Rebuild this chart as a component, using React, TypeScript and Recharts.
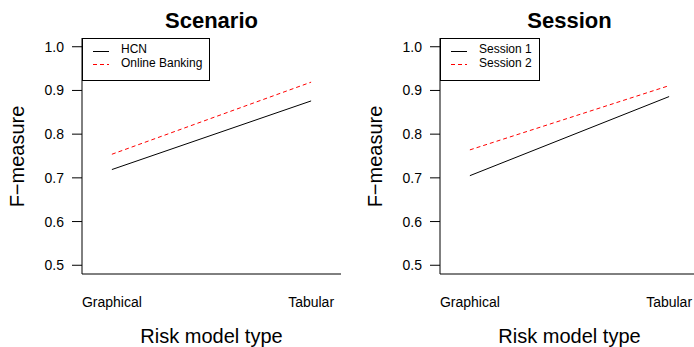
import React from 'react';
import { LineChart, Line, XAxis, YAxis, Legend } from 'recharts';

// ---- data ----
const categories = ['Graphical', 'Tabular'];
const xPositions = [1, 2];
const yTicks = [0.5, 0.6, 0.7, 0.8, 0.9, 1.0];

const scenarioTitle = 'Scenario';
const scenarioNames = ['HCN', 'Online Banking'];
const scenarioHCN = [0.719, 0.876];
const scenarioOnlineBanking = [0.754, 0.919];

const sessionTitle = 'Session';
const sessionNames = ['Session 1', 'Session 2'];
const session1 = [0.705, 0.886];
const session2 = [0.764, 0.911];

const xAxisTitle = 'Risk model type';
const yAxisTitle = 'F\u2212measure';

// ---- styles ----
const FONT = '"Liberation Sans", Arial, Helvetica, sans-serif';
const SERIES_STYLE = [
  { stroke: '#000000', dash: undefined as string | undefined },
  { stroke: '#ff0000', dash: '4 3' },
];
const X_DOMAIN: [number, number] = [0.85, 2.15];
const Y_DOMAIN: [number, number] = [0.48, 1.02];

function LegendBox({ names }: { names: string[] }) {
  return (
    <div
      style={{
        border: '1px solid #000',
        background: '#fff',
        boxSizing: 'border-box',
        height: 43,
        paddingTop: 4,
        paddingRight: 7,
        fontFamily: FONT,
        fontSize: 12,
        color: '#000',
        display: 'inline-block',
      }}
    >
      {names.map((n, i) => (
        <div key={n} style={{ display: 'flex', alignItems: 'center', height: 13.5, lineHeight: '13.5px' }}>
          <svg width={16} height={12} style={{ marginLeft: 10, marginRight: 12, display: 'block' }}>
            <line
              x1={0}
              x2={16}
              y1={7.5}
              y2={7.5}
              stroke={SERIES_STYLE[i].stroke}
              strokeWidth={1}
              strokeDasharray={SERIES_STYLE[i].dash}
            />
          </svg>
          <span style={{ whiteSpace: 'nowrap' }}>{n}</span>
        </div>
      ))}
    </div>
  );
}

function Panel({ title, names, values }: { title: string; names: string[]; values: number[][] }) {
  const data = xPositions.map((x, i) => ({ x, s0: values[0][i], s1: values[1][i] }));

  const xLabel = (props: any) => {
    const vb = props.viewBox || { x: 82, y: 274, width: 259, height: 73 };
    return (
      <text x={vb.x + vb.width / 2} y={vb.y + 69} textAnchor="middle" fontFamily={FONT} fontSize={20} fill="#000">
        {xAxisTitle}
      </text>
    );
  };

  const yLabel = (props: any) => {
    const vb = props.viewBox || { x: 0, y: 38, width: 82, height: 236 };
    const cx = vb.x + 24;
    const cy = vb.y + vb.height / 2 + 0.5;
    return (
      <text
        x={cx}
        y={cy}
        transform={`rotate(-90, ${cx}, ${cy})`}
        textAnchor="middle"
        fontFamily={FONT}
        fontSize={20}
        fill="#000"
      >
        {yAxisTitle}
      </text>
    );
  };

  return (
    <div style={{ position: 'relative', width: 347, height: 347 }}>
      <LineChart width={347} height={347} data={data} margin={{ top: 38, right: 6, bottom: 0, left: 0 }}>
        <XAxis
          xAxisId="main"
          dataKey="x"
          type="number"
          domain={X_DOMAIN}
          allowDataOverflow
          ticks={xPositions}
          tickFormatter={(v: number) => categories[xPositions.indexOf(v)]}
          height={73}
          tickLine={false}
          tickSize={0}
          tickMargin={23}
          axisLine={{ stroke: '#000', strokeWidth: 1 }}
          tick={{ fontFamily: FONT, fontSize: 14, fill: '#000' }}
          interval={0}
          label={xLabel}
        />
        <XAxis
          xAxisId="top"
          orientation="top"
          type="number"
          domain={X_DOMAIN}
          allowDataOverflow
          height={0}
          tick={false}
          tickLine={false}
          axisLine={{ stroke: '#000', strokeWidth: 1 }}
        />
        <YAxis
          yAxisId="main"
          type="number"
          domain={Y_DOMAIN}
          allowDataOverflow
          ticks={yTicks}
          tickFormatter={(v: number) => v.toFixed(1)}
          width={82}
          tickSize={10}
          tickMargin={8}
          tickLine={{ stroke: '#000', strokeWidth: 1 }}
          axisLine={{ stroke: '#000', strokeWidth: 1 }}
          tick={{ fontFamily: FONT, fontSize: 14, fill: '#000' }}
          interval={0}
          label={yLabel}
        />
        <YAxis
          yAxisId="right"
          orientation="right"
          type="number"
          domain={Y_DOMAIN}
          allowDataOverflow
          width={0}
          tick={false}
          tickLine={false}
          axisLine={{ stroke: '#000', strokeWidth: 1 }}
        />
        <Line
          xAxisId="main"
          yAxisId="main"
          dataKey="s0"
          name={names[0]}
          stroke={SERIES_STYLE[0].stroke}
          strokeWidth={1}
          dot={false}
          activeDot={false}
          isAnimationActive={false}
        />
        <Line
          xAxisId="main"
          yAxisId="main"
          dataKey="s1"
          name={names[1]}
          stroke={SERIES_STYLE[1].stroke}
          strokeWidth={1}
          strokeDasharray={SERIES_STYLE[1].dash}
          dot={false}
          activeDot={false}
          isAnimationActive={false}
        />
        <Legend
          layout="horizontal"
          verticalAlign="middle"
          align="center"
          content={() => <LegendBox names={names} />}
          wrapperStyle={{ left: 82, top: 38, width: 'auto', height: 'auto' }}
        />
      </LineChart>
      <div
        style={{
          position: 'absolute',
          left: 82,
          top: 8,
          width: 259,
          textAlign: 'center',
          fontFamily: FONT,
          fontSize: 22,
          fontWeight: 'bold',
          lineHeight: 'normal',
          color: '#000',
          whiteSpace: 'nowrap',
          pointerEvents: 'none',
        }}
      >
        {title}
      </div>
    </div>
  );
}

export default function App() {
  return (
    <div
      style={{
        position: 'absolute',
        left: 0,
        top: 0,
        width: 694,
        height: 347,
        overflow: 'hidden',
        background: '#fff',
      }}
    >
      <div style={{ position: 'absolute', left: 0, top: 0 }}>
        <Panel title={scenarioTitle} names={scenarioNames} values={[scenarioHCN, scenarioOnlineBanking]} />
      </div>
      <div style={{ position: 'absolute', left: 358, top: 0 }}>
        <Panel title={sessionTitle} names={sessionNames} values={[session1, session2]} />
      </div>
    </div>
  );
}
